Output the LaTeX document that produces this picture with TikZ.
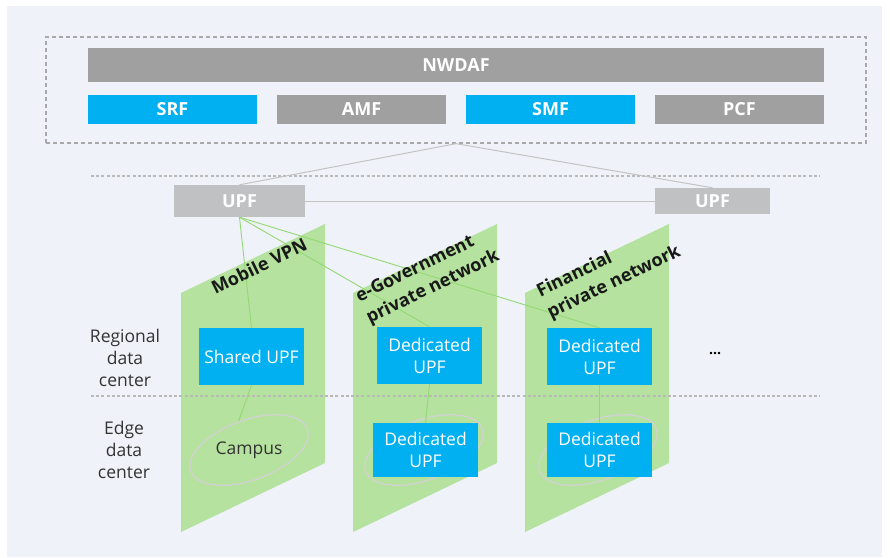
\documentclass[tikz,border=0pt]{standalone}
\usepackage{fontspec}
\setmainfont{Open Sans}
\usetikzlibrary{shapes.geometric}

\definecolor{bgc}{HTML}{EFF2F9}
\definecolor{nfgray}{HTML}{A0A0A0}
\definecolor{upfgray}{HTML}{C0C1C3}
\definecolor{nfblue}{HTML}{00B0F0}
\definecolor{slicegreen}{HTML}{B5E29F}
\definecolor{greenlink}{HTML}{94D873}
\definecolor{graylink}{HTML}{C3C3C3}
\definecolor{dashgray}{HTML}{A8A8A8}
\definecolor{ellgray}{HTML}{D2D2D2}
\definecolor{txtdark}{HTML}{333333}

\tikzset{
  nfbox/.style={fill=nfgray, text=white, inner sep=0pt,
    font=\fontsize{18}{20}\selectfont\bfseries,
    minimum width=169pt, minimum height=29pt},
  bluebox/.style={nfbox, fill=nfblue},
  upfbox/.style={fill=upfgray, text=white, inner sep=0pt,
    font=\fontsize{18}{20}\selectfont\bfseries, minimum height=32pt},
  upfslice/.style={fill=nfblue, text=white, inner sep=0pt, align=center,
    font=\fontsize{17.5}{22}\selectfont, minimum width=105pt, minimum height=57pt},
  sitering/.style={ellipse, draw=ellgray, line width=1.3pt, inner sep=0pt,
    minimum width=124pt, minimum height=60pt, rotate=20},
  slicelabel/.style={rotate=26, align=left, text=black!90,
    font=\fontsize{18}{24}\selectfont\bfseries, inner sep=0pt},
  sidelabel/.style={align=center, text=txtdark, inner sep=0pt,
    font=\fontsize{17.5}{22}\selectfont},
  ctrlink/.style={draw=graylink, line width=1pt},
  userlink/.style={draw=greenlink, line width=0.9pt},
  layerline/.style={draw=dashgray!80, line width=1.2pt, dash pattern=on 3pt off 2.2pt},
}

\begin{document}
\begin{tikzpicture}[x=1pt, y=-1pt]
\useasboundingbox (0,0) rectangle (890,557);
\fill[bgc] (7,6) rectangle (882,557);

% control plane group
\node[draw=dashgray, line width=1.3pt, dash pattern=on 4pt off 3pt,
      minimum width=820pt, minimum height=106pt, inner sep=0pt] (cp) at (456,90) {};
\node[nfbox, minimum width=736pt, minimum height=34pt] (nwdaf) at (456,65) {NWDAF};
\node[bluebox] (srf) at (172.5,109.5) {SRF};
\node[nfbox]   (amf) at (361.5,109.5) {AMF};
\node[bluebox] (smf) at (550.5,109.5) {SMF};
\node[nfbox]   (pcf) at (739.5,109.5) {PCF};

% network slices
\fill[slicegreen] (181,293) -- (325,224) -- (325,463) -- (181,532) -- cycle;
\fill[slicegreen] (353,293) -- (497,224) -- (497,463) -- (353,532) -- cycle;
\fill[slicegreen] (525,293) -- (669,224) -- (669,463) -- (525,532) -- cycle;

% layer separators
\draw[layerline] (91,176) -- (820,176);
\draw[layerline] (91,396) -- (820,396);

% central UPFs
\node[upfbox, minimum width=131pt] (upfl) at (239.5,201) {UPF};
\node[upfbox, minimum width=115pt, minimum height=26pt] (upfr) at (712.5,201) {UPF};

% edge sites
\node[sitering] (campus) at (249,450) {};
\node[sitering] (egovsite) at (424,450) {};
\node[sitering] (finsite) at (598,450) {};

% slice UPFs
\node[upfslice] (shared) at (251.5,356.5) {Shared UPF};
\node[upfslice] (egovu) at (429.5,355.5) {Dedicated\\UPF};
\node[upfslice, minimum height=54pt] (egovl) at (425.5,450) {Dedicated\\UPF};
\node[upfslice] (finu) at (599.5,356.5) {Dedicated\\UPF};
\node[upfslice, minimum height=54pt] (finl) at (599.5,450) {Dedicated\\UPF};
\node[text=txtdark, font=\fontsize{17.5}{20}\selectfont, inner sep=0pt] (campustxt) at (249,450) {Campus};

% control links
\draw[ctrlink] (cp.south) -- (upfl.north);
\draw[ctrlink] (cp.south) -- (upfr.north);
\draw[ctrlink] (upfl.east) -- (upfr.west);

% user plane links
\draw[userlink] (upfl.south) -- (shared.north);
\draw[userlink] (upfl.south) -- (egovu.north);
\draw[userlink] (upfl.south) -- (finu.north);
\draw[userlink] (shared.south) -- (campus.north);
\draw[userlink] (egovu.south) -- (egovl.north);
\draw[userlink] (finu.south) -- (finl.north);

% slice names
\node[slicelabel] (mvpn) at (259,266) {Mobile VPN};
\node[slicelabel] (egov) at (428,277) {e-Government\\private network};
\node[slicelabel] (fin) at (609,272) {Financial\\private network};

% layer names
\node[sidelabel] (regional) at (125,358) {Regional\\data\\center};
\node[sidelabel] (edge) at (124,450) {Edge\\data\\center};
\node[font=\fontsize{14}{16}\selectfont\bfseries, inner sep=0pt] (more) at (715,354) {...};
\end{tikzpicture}
\end{document}
